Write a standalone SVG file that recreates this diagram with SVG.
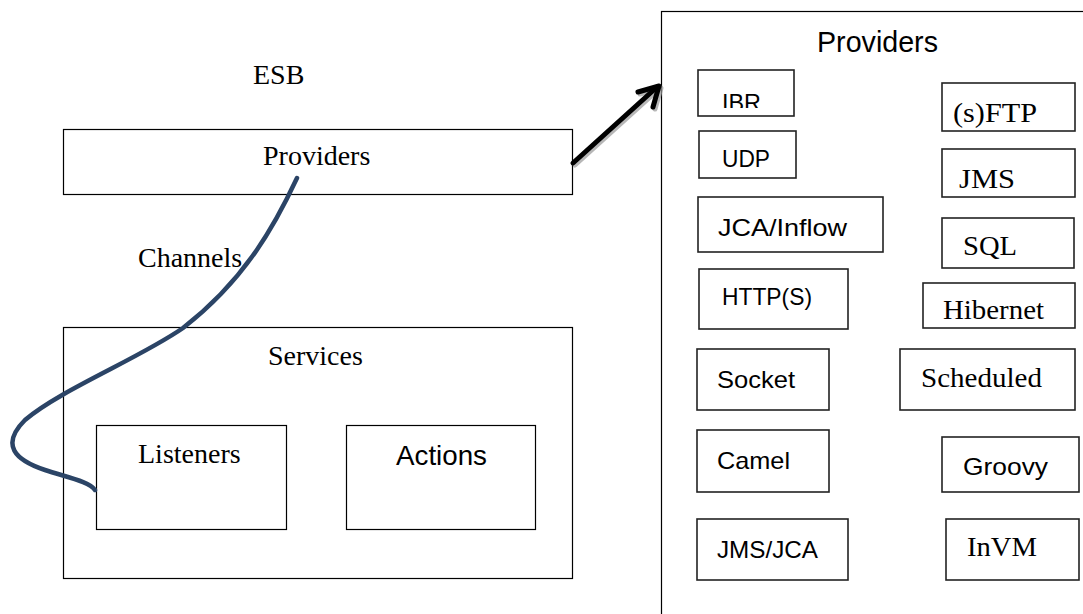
<svg xmlns="http://www.w3.org/2000/svg" width="1083" height="614" viewBox="0 0 1083 614">
<style>
  .box{fill:#fff;stroke:#000;stroke-width:1.2}
  .sbox{fill:#fff;stroke:#222;stroke-width:1.6}
  .serif{font-family:"Liberation Serif","Times New Roman",serif;font-size:28px;fill:#000}
  .sans{font-family:"Liberation Sans",Arial,sans-serif;font-size:24px;fill:#000}
  .chan{fill:none;stroke:#2B4466;stroke-width:4.5;stroke-linecap:round}
  .arr{fill:none;stroke:#000;stroke-width:5;stroke-linecap:round;stroke-linejoin:round}
  .arrs{fill:none;stroke:#999;stroke-width:5;stroke-linecap:round;stroke-linejoin:round;opacity:0.7}
</style>
<defs>
  <clipPath id="ibrclip"><rect x="698" y="70" width="96" height="38"/></clipPath>
</defs>
<rect width="1083" height="614" fill="#fff"/>

<g id="esb-label"><text class="serif" x="253" y="84">ESB</text></g>

<g id="esb-providers">
  <rect class="box" x="63.5" y="129.5" width="509" height="65"/>
  <text class="serif" x="263" y="165">Providers</text>
</g>

<g id="channels-label"><text class="serif" x="138" y="267">Channels</text></g>

<g id="services">
  <rect class="box" x="63.5" y="327.5" width="509" height="251"/>
  <text class="serif" x="268" y="365">Services</text>
</g>

<g id="listeners">
  <rect class="box" x="96.5" y="425.5" width="190" height="104"/>
  <text class="serif" x="138" y="463">Listeners</text>
</g>

<g id="actions">
  <rect class="box" x="346.5" y="425.5" width="189" height="104"/>
  <text class="sans" style="font-size:28px" x="396" y="465" textLength="91" lengthAdjust="spacingAndGlyphs">Actions</text>
</g>

<g id="providers-panel">
  <rect class="box" x="661.5" y="11.5" width="500" height="700"/>
  <text class="sans" style="font-size:29px" x="817" y="52" textLength="121" lengthAdjust="spacingAndGlyphs">Providers</text>
</g>

<g id="ibr">
  <rect class="sbox" x="698" y="70" width="96" height="46"/>
  <text class="sans" x="722" y="111" textLength="39" lengthAdjust="spacingAndGlyphs" clip-path="url(#ibrclip)">IBR</text>
</g>
<g id="udp">
  <rect class="sbox" x="699" y="131" width="97" height="47"/>
  <text class="sans" x="722" y="167" textLength="48" lengthAdjust="spacingAndGlyphs">UDP</text>
</g>
<g id="jca-inflow">
  <rect class="sbox" x="698" y="197" width="185" height="55"/>
  <text class="sans" x="718" y="236" textLength="129" lengthAdjust="spacingAndGlyphs">JCA/Inflow</text>
</g>
<g id="https">
  <rect class="sbox" x="699" y="269" width="149" height="60"/>
  <text class="sans" x="722" y="305" textLength="90" lengthAdjust="spacingAndGlyphs">HTTP(S)</text>
</g>
<g id="socket">
  <rect class="sbox" x="697" y="349" width="132" height="61"/>
  <text class="sans" x="717" y="388" textLength="78" lengthAdjust="spacingAndGlyphs">Socket</text>
</g>
<g id="camel">
  <rect class="sbox" x="697" y="430" width="132" height="62"/>
  <text class="sans" x="717" y="469" textLength="73" lengthAdjust="spacingAndGlyphs">Camel</text>
</g>
<g id="jms-jca">
  <rect class="sbox" x="697" y="519" width="151" height="61"/>
  <text class="sans" x="717" y="558" textLength="101" lengthAdjust="spacingAndGlyphs">JMS/JCA</text>
</g>

<g id="sftp">
  <rect class="sbox" x="942" y="83" width="133" height="48"/>
  <text class="serif" x="953" y="122" textLength="84" lengthAdjust="spacingAndGlyphs">(s)FTP</text>
</g>
<g id="jms">
  <rect class="sbox" x="942" y="149" width="133" height="48"/>
  <text class="serif" x="959" y="188" textLength="56" lengthAdjust="spacingAndGlyphs">JMS</text>
</g>
<g id="sql">
  <rect class="sbox" x="942" y="218" width="132" height="50"/>
  <text class="serif" x="963" y="255" textLength="54" lengthAdjust="spacingAndGlyphs">SQL</text>
</g>
<g id="hibernet">
  <rect class="sbox" x="923" y="283" width="152" height="45"/>
  <text class="serif" x="943" y="319" textLength="101" lengthAdjust="spacingAndGlyphs">Hibernet</text>
</g>
<g id="scheduled">
  <rect class="sbox" x="900" y="349" width="175" height="61"/>
  <text class="serif" x="921" y="387" textLength="121" lengthAdjust="spacingAndGlyphs">Scheduled</text>
</g>
<g id="groovy">
  <rect class="sbox" x="942" y="437" width="137" height="55"/>
  <text class="sans" x="963" y="475" textLength="85" lengthAdjust="spacingAndGlyphs">Groovy</text>
</g>
<g id="invm">
  <rect class="sbox" x="946" y="519" width="133" height="61"/>
  <text class="serif" x="967" y="556" textLength="70" lengthAdjust="spacingAndGlyphs">InVM</text>
</g>

<g id="connectors">
  <path class="chan" d="M297,178 C275,225 245,280 183,328 C140,358 60,390 25,420 C0,445 15,460 45,470 C70,478 90,482 95,490"/>
  <g transform="translate(2,2)">
    <path class="arrs" d="M573,163 L657,87"/>
    <path class="arrs" d="M638,92 L659,86 L653,107"/>
  </g>
  <path class="arr" d="M573,163 L657,87"/>
  <path class="arr" d="M638,92 L659,86 L653,107"/>
</g>
</svg>
